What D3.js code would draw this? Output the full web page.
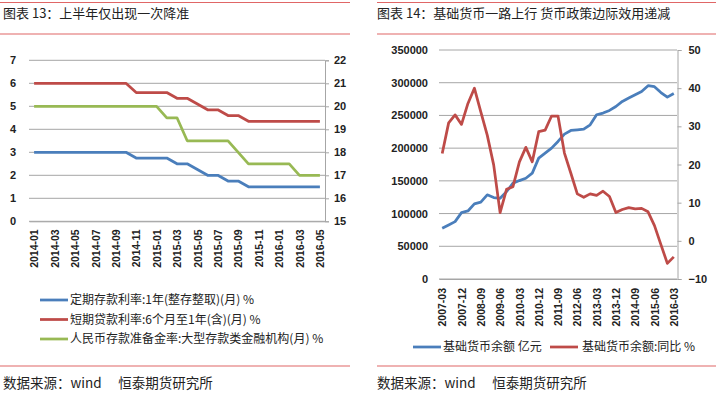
<!DOCTYPE html>
<html><head><meta charset="utf-8">
<script src="https://cdn.jsdelivr.net/npm/d3@7"></script>
<style>
body{margin:0;background:#fff;}
svg{display:block;}
</style></head>
<body>
<svg id="c" width="716" height="399"></svg>
<script>
// ---------- Data: chart 13 ----------
const months13 = ["2014-01","2014-02","2014-03","2014-04","2014-05","2014-06","2014-07","2014-08","2014-09","2014-10","2014-11","2014-12",
  "2015-01","2015-02","2015-03","2015-04","2015-05","2015-06","2015-07","2015-08","2015-09","2015-10","2015-11","2015-12",
  "2016-01","2016-02","2016-03","2016-04","2016-05"];
const depositRate = [3,3,3,3,3,3,3,3,3,3,2.75,2.75,2.75,2.75,2.5,2.5,2.25,2,2,1.75,1.75,1.5,1.5,1.5,1.5,1.5,1.5,1.5,1.5];
const loanRate = [6,6,6,6,6,6,6,6,6,6,5.6,5.6,5.6,5.6,5.35,5.35,5.1,4.85,4.85,4.6,4.6,4.35,4.35,4.35,4.35,4.35,4.35,4.35,4.35];
const rrrRate = [20,20,20,20,20,20,20,20,20,20,20,20,20,19.5,19.5,18.5,18.5,18.5,18.5,18.5,18,17.5,17.5,17.5,17.5,17.5,17,17,17];
const leftTicks13 = [0,1,2,3,4,5,6,7];
const rightTicks13 = [15,16,17,18,19,20,21,22];
const legend13 = ["定期存款利率:1年(整存整取)(月) %","短期贷款利率:6个月至1年(含)(月) %","人民币存款准备金率:大型存款类金融机构(月) %"];

// ---------- Data: chart 14 ----------
const quarters14 = ["2007-03","2007-06","2007-09","2007-12","2008-03","2008-06","2008-09","2008-12","2009-03","2009-06","2009-09","2009-12",
  "2010-03","2010-06","2010-09","2010-12","2011-03","2011-06","2011-09","2011-12","2012-03","2012-06","2012-09","2012-12",
  "2013-03","2013-06","2013-09","2013-12","2014-03","2014-06","2014-09","2014-12","2015-03","2015-06","2015-09","2015-12","2016-03"];
const baseMoney = [77600,82600,87700,101500,104000,114800,117400,128600,124400,123400,133600,146500,
  150400,154000,161800,184700,192300,200000,210200,221500,227000,228000,229000,235700,
  251000,253600,257600,263700,271400,276500,281600,286700,295400,294000,285000,278000,283500];
const baseMoneyYoY = [22.9,30.9,33.0,30.5,36.0,40.0,33.8,27.7,19.9,7.4,13.5,14.2,
  20.7,24.5,20.7,28.6,29.0,32.7,32.7,23.0,17.7,12.3,11.4,12.3,
  11.9,13.0,11.6,7.4,8.2,8.7,8.4,8.5,7.6,4.0,-1.0,-5.9,-4.2];
const leftTicks14 = [0,50000,100000,150000,200000,250000,300000,350000];
const rightTicks14 = [-10,0,10,20,30,40,50];
const legend14 = ["基础货币余额 亿元","基础货币余额:同比 %"];

const titles = ["图表 13：上半年仅出现一次降准","图表 14：基础货币一路上行 货币政策边际效用递减"];
const sourceText = "数据来源：wind　 恒泰期货研究所";

// ---------- Styles ----------
const BLUE="#4a7ebb", RED="#be4b48", GREEN="#98b954", GRID="#a6a6a6", RULE="#e06666";
const CJK = "'Noto Sans CJK SC','Noto Sans',sans-serif";
const NUM = "'Liberation Sans',Arial,sans-serif";

const svg = d3.select("#c");

// header / footer rules
function frame(x0,x1,title,tx){
  svg.append("line").attr("x1",x0).attr("x2",x1).attr("y1",2.5).attr("y2",2.5).attr("stroke",RULE).attr("stroke-width",1.2);
  svg.append("line").attr("x1",x0).attr("x2",x1).attr("y1",34).attr("y2",34).attr("stroke",RULE).attr("stroke-width",1.2);
  svg.append("line").attr("x1",x0).attr("x2",x1).attr("y1",366).attr("y2",366).attr("stroke",RULE).attr("stroke-width",1.2);
  svg.append("text").attr("x",tx).attr("y",18).attr("font-family",CJK).attr("font-size",13).attr("fill","#222").text(title);
  svg.append("text").attr("x",tx).attr("y",388).attr("font-family",CJK).attr("font-size",13.5).attr("fill","#222").text(sourceText);
}
frame(0,350,titles[0],3);
frame(377,716,titles[1],377);

// ---------- Chart 13 ----------
(function(){
  const x = d3.scalePoint().domain(months13).range([29,325]).padding(0.5);
  const yL = d3.scaleLinear().domain([0,7]).range([221.3,60.3]);
  const yR = d3.scaleLinear().domain([15,22]).range([221.3,60.3]);
  const g = svg.append("g");
  g.selectAll(".gl").data(leftTicks13).join("line")
    .attr("x1",29).attr("x2",325).attr("y1",d=>yL(d)).attr("y2",d=>yL(d))
    .attr("stroke",GRID).attr("stroke-width",1);
  const ra = g.append("g").attr("transform","translate(325,0)")
    .call(d3.axisRight(yR).tickValues(rightTicks13).tickSize(4).tickPadding(5).tickFormat(d3.format("d")));
  ra.select(".domain").attr("stroke",GRID);
  ra.selectAll(".tick line").attr("stroke",GRID);
  ra.selectAll("text").attr("font-family",NUM).attr("font-weight","bold").attr("font-size",11).attr("fill","#222");
  const la = g.append("g").attr("transform","translate(29,0)")
    .call(d3.axisLeft(yL).tickValues(leftTicks13).tickSize(0).tickPadding(13).tickFormat(d3.format("d")));
  la.select(".domain").remove();
  la.selectAll("text").attr("font-family",NUM).attr("font-weight","bold").attr("font-size",11).attr("fill","#222");
  const xa = g.append("g").attr("transform","translate(0,221.3)")
    .call(d3.axisBottom(x).tickValues(months13.filter((d,i)=>i%2===0)).tickSize(0));
  xa.select(".domain").attr("stroke",GRID);
  xa.selectAll("text").attr("font-family",NUM).attr("font-weight","bold").attr("font-size",10.5).attr("fill","#222")
    .attr("transform","rotate(-90)").attr("text-anchor","end").attr("dx","-8").attr("dy","0.35em").attr("y",0).attr("x",0);
  const lineL = d3.line().x((d,i)=>x(months13[i])).y(d=>yL(d));
  const lineR = d3.line().x((d,i)=>x(months13[i])).y(d=>yR(d));
  g.append("path").attr("d",lineL(depositRate)).attr("fill","none").attr("stroke",BLUE).attr("stroke-width",2.75).attr("stroke-linejoin","round");
  g.append("path").attr("d",lineL(loanRate)).attr("fill","none").attr("stroke",RED).attr("stroke-width",2.75).attr("stroke-linejoin","round");
  g.append("path").attr("d",lineR(rrrRate)).attr("fill","none").attr("stroke",GREEN).attr("stroke-width",2.75).attr("stroke-linejoin","round");
  const cols=[BLUE,RED,GREEN], ys=[300,319.5,339];
  legend13.forEach((t,i)=>{
    g.append("line").attr("x1",40).attr("x2",68).attr("y1",ys[i]).attr("y2",ys[i]).attr("stroke",cols[i]).attr("stroke-width",2.75);
    g.append("text").attr("x",70).attr("y",ys[i]+4.3).attr("font-family",CJK).attr("font-size",12).attr("fill","#222").text(t);
  });
})();

// ---------- Chart 14 ----------
(function(){
  const x = d3.scalePoint().domain(quarters14).range([439,677]).padding(0.5);
  const yL = d3.scaleLinear().domain([0,350000]).range([279,50]);
  const yR = d3.scaleLinear().domain([-10,50]).range([279,50]);
  const g = svg.append("g");
  g.selectAll(".gl").data(leftTicks14).join("line")
    .attr("x1",439).attr("x2",677).attr("y1",d=>yL(d)).attr("y2",d=>yL(d))
    .attr("stroke",GRID).attr("stroke-width",1);
  const ra = g.append("g").attr("transform","translate(677.5,0)")
    .call(d3.axisRight(yR).tickValues(rightTicks14).tickSize(4).tickPadding(7).tickFormat(d3.format("d")));
  ra.select(".domain").attr("stroke",GRID);
  ra.selectAll(".tick line").attr("stroke",GRID);
  ra.selectAll("text").attr("font-family",NUM).attr("font-weight","bold").attr("font-size",11).attr("fill","#222");
  const la = g.append("g").attr("transform","translate(439,0)")
    .call(d3.axisLeft(yL).tickValues(leftTicks14).tickSize(0).tickPadding(11).tickFormat(d3.format("d")));
  la.select(".domain").remove();
  la.selectAll("text").attr("font-family",NUM).attr("font-weight","bold").attr("font-size",11).attr("fill","#222");
  const xa = g.append("g").attr("transform","translate(0,279)")
    .call(d3.axisBottom(x).tickValues(quarters14.filter((d,i)=>i%3===0)).tickSize(0));
  xa.select(".domain").attr("stroke",GRID);
  xa.selectAll("text").attr("font-family",NUM).attr("font-weight","bold").attr("font-size",10.5).attr("fill","#222")
    .attr("transform","rotate(-90)").attr("text-anchor","end").attr("dx","-9").attr("dy","0.35em").attr("y",0).attr("x",0);
  const lineL = d3.line().x((d,i)=>x(quarters14[i])).y(d=>yL(d));
  const lineR = d3.line().x((d,i)=>x(quarters14[i])).y(d=>yR(d));
  g.append("path").attr("d",lineL(baseMoney)).attr("fill","none").attr("stroke",BLUE).attr("stroke-width",2.75).attr("stroke-linejoin","round");
  g.append("path").attr("d",lineR(baseMoneyYoY)).attr("fill","none").attr("stroke",RED).attr("stroke-width",2.75).attr("stroke-linejoin","round");
  const lx=[413,550], tx=[443,582], cols=[BLUE,RED];
  legend14.forEach((t,i)=>{
    g.append("line").attr("x1",lx[i]).attr("x2",lx[i]+28).attr("y1",347).attr("y2",347).attr("stroke",cols[i]).attr("stroke-width",2.75);
    g.append("text").attr("x",tx[i]).attr("y",351.3).attr("font-family",CJK).attr("font-size",12).attr("fill","#222").text(t);
  });
})();
</script>
</body></html>
